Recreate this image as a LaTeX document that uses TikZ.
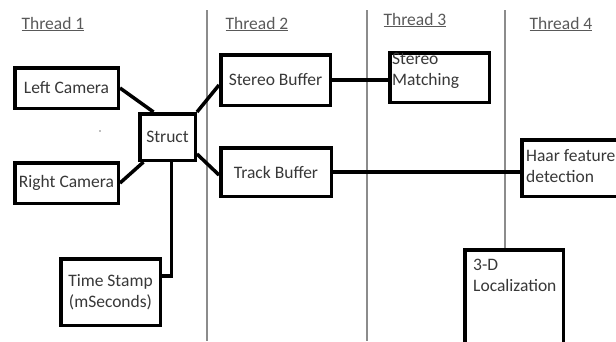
\documentclass[tikz,border=0pt]{standalone}
\usepackage{fontspec}
\setmainfont{Carlito}
\usetikzlibrary{positioning}
\tikzset{
  caja/.style={rectangle, draw=black, line width=3.5pt, fill=white, inner sep=0pt, text=black!78, font=\fontsize{17.5}{21}\selectfont, align=center},
  texto/.style={inner sep=0pt, text=black!78, font=\fontsize{17.5}{21}\selectfont, align=left},
  hilo/.style={inner sep=0pt, text=black!65, font=\fontsize{17.5}{21}\selectfont},
  enlace/.style={draw=black, line width=3.5pt},
  separador/.style={draw=black!45, line width=1.1pt}
}

\begin{document}
\begin{tikzpicture}[x=1pt,y=-1pt]
        \useasboundingbox (0,0) rectangle (616,341);

        % Separadores de hilos
        \draw[separador] (207,10) -- (207,341);
        \draw[separador] (367,10) -- (367,341);
        \draw[separador] (505,10) -- (505,341);

        % Titulos
        \node[hilo] (t1) at (53,24) {\underline{Thread 1}};
        \node[hilo] (t2) at (257,24) {\underline{Thread 2}};
        \node[hilo] (t3) at (415,20) {\underline{Thread 3}};
        \node[hilo] (t4) at (561,24) {\underline{Thread 4}};

        % Cajas
        \node[caja, minimum width=103.5pt, minimum height=40.5pt] (lcam) at (66.5,88) {Left Camera};
        \node[caja, minimum width=55.5pt, minimum height=46.5pt] (struct) at (167.5,137) {Struct};
        \node[caja, minimum width=103.5pt, minimum height=40.5pt] (rcam) at (66.5,183) {Right Camera};
        \node[caja, minimum width=99.5pt, minimum height=66.5pt] (time) at (110.5,292) {Time Stamp\\(mSeconds)};
        \node[caja, minimum width=109.5pt, minimum height=50.5pt] (sbuf) at (275.5,80) {Stereo Buffer};
        \node[caja, minimum width=110.5pt, minimum height=48.5pt] (tbuf) at (276,172) {Track Buffer};
        \node[caja, minimum width=99.5pt, minimum height=49.5pt] (match) at (439.5,77.5) {};
        \node[caja, minimum width=102pt, minimum height=56.5pt] (haar) at (572.75,168) {};
        \node[caja, minimum width=98.5pt, minimum height=110pt] (loc) at (514,305) {};

        % Textos alineados a la izquierda
        \node[texto, below right=2pt and 4pt of match.north west] (tmatch) {Stereo\\Matching};
        \node[texto, anchor=west] (thaar) at ([xshift=6pt,yshift=2pt]haar.west) {Haar feature\\detection};
        \node[texto, below right=11pt and 10pt of loc.north west] (tloc) {3-D\\Localization};

        % Conexiones
        \draw[enlace] (lcam.east) -- ([xshift=-14pt]struct.north);
        \draw[enlace] (rcam.east) -- ([xshift=-24pt]struct.south);
        \draw[enlace] ([xshift=4pt]struct.south) |- ([yshift=16pt]time.east);
        \draw[enlace] (struct.north east) -- ([yshift=-5pt]sbuf.west);
        \draw[enlace] ([yshift=-17pt]struct.east) -- ([yshift=-3pt]tbuf.west);
        \draw[enlace] (sbuf.east) -- (sbuf.east -| match.west);
        \draw[enlace] (tbuf.east) -- (tbuf.east -| haar.west);

        % Punto suelto
        \fill[black!50] (100,131) circle (0.9);
    \end{tikzpicture}
\end{document}
